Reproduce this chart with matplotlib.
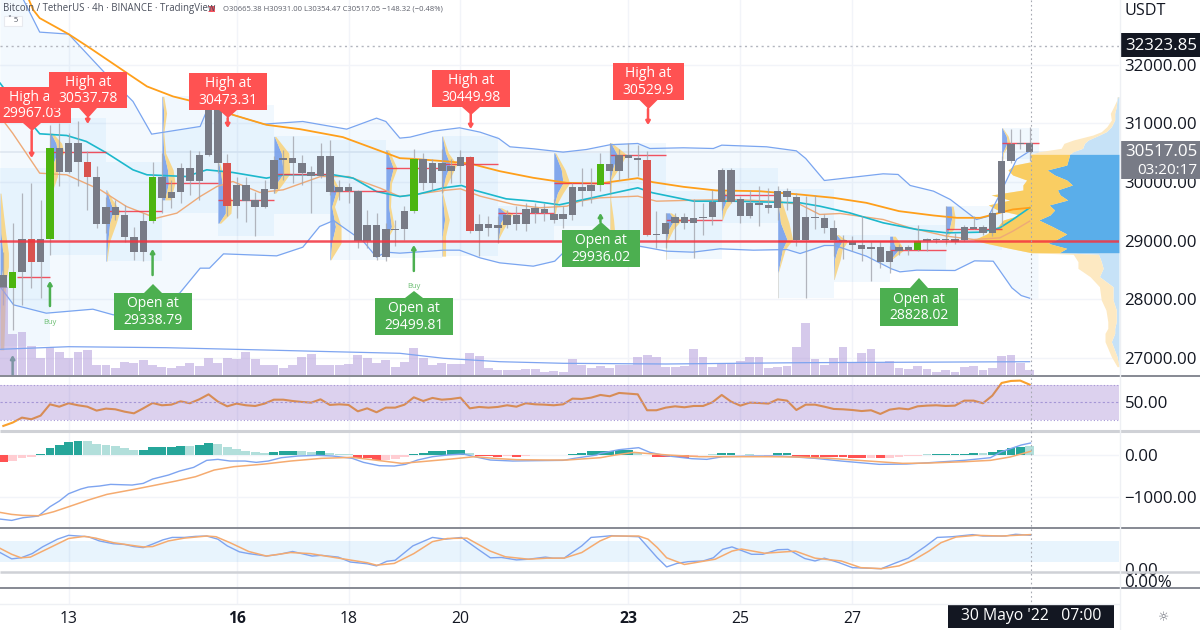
import numpy as np
import matplotlib
matplotlib.use("Agg")
import matplotlib.pyplot as plt
from matplotlib.patches import Polygon, Rectangle

W, H = 1200, 630
# ---------- candles (4h) ----------
c_top = [28408,28471,29023,29023,29034,30582,30582,30667,30667,30343,30087,29569,29569,29438,29068,29336,30087,30087,29831,30240,30240,30457,31333,31333,30320,29950,29950,29694,29876,30366,30411,30411,30320,30161,30445,30445,29910,29910,29842,29273,29273,29193,29193,
 29501,30394,30394,30326,30326,30269,30417,30417,29290,29290,29262,29427,29427,29546,29558,29541,29450,29450,29905,29905,29939,30297,30297,30451,30451,30400,30371,29114,29302,29404,29404,29381,29404,29660,30200,30200,29700,29632,29632,29609,29842,29842,29734,
 29393,29404,29381,29205,29017,28989,28915,28886,28886,28818,28886,28886,28994,29028,29028,29034,29028,29239,29228,29222,29472,30354,30639,30667,30665]
c_bot = [28192,28192,28471,28641,28641,29034,30172,30172,30343,30087,29285,29285,29438,29068,28812,28812,29336,29717,29717,29825,30007,30007,30457,30320,29592,29592,29677,29569,29569,29876,30366,30320,30149,30104,30104,29831,29831,29842,28989,28989,28716,28716,29182,
 29188,29501,29973,29973,30178,30178,30269,29159,29159,29205,29205,29262,29290,29290,29461,29461,29358,29370,29438,29848,29848,29939,30178,30178,30400,30377,29097,29097,29108,29302,29302,29302,29381,29404,29660,29660,29415,29415,29603,29552,29552,29734,29017,
 29006,29381,29205,29017,29000,28915,28858,28858,28636,28636,28818,28835,28835,28994,29006,29011,28972,29006,29199,29131,29131,29472,30354,30639,30517]
c_high = [28800,29296,29808,29979,29694,30974,31003,30832,31031,30519,30263,29750,29694,29609,29239,29467,30337,30491,30035,30320,30548,30519,31333,31344,30479,30092,30092,29836,30035,30434,30548,30775,30462,30263,30661,30718,30035,29979,29865,29523,29467,29296,29350,
 29586,30553,30496,30383,30553,30383,30542,30440,29444,29415,29415,29529,29586,29643,29643,29643,29700,29586,29984,30240,30240,30496,30667,30553,30667,30638,30525,29500,29472,29472,29472,29700,29643,29870,30240,30240,29757,29870,29927,29900,29927,29900,29814,
 29763,29785,29450,29358,29100,29074,29415,28989,28989,28903,28932,28915,29273,29045,29045,29586,29130,29273,29415,29273,29580,30450,30900,30900,30931]
c_low = [27900,27475,27900,28186,28015,28755,29922,30150,29922,29523,29210,29125,29353,28983,28670,28642,29296,29467,29552,29637,29780,29694,30434,30150,29410,29381,29324,29080,29552,29808,30035,29979,29950,29467,30064,29780,29694,29637,28870,28870,28670,28642,28900,
 29017,29472,29870,29870,29814,29984,29984,29131,28733,29074,28960,29216,29171,29159,29302,29330,29302,29216,29358,29586,29643,29842,29814,30041,30070,30098,29074,28875,28875,29017,29188,28704,29100,29273,29529,29643,29302,29387,29245,29472,29358,29529,28900,
 28023,29188,29131,28733,28676,28818,28647,28306,28533,28448,28761,28761,28818,28818,28960,28932,28932,28989,29188,29091,29080,29250,30325,30560,30354]
up_idx = [1,5,16,44,64,98]
down_idx = [3,9,24,50,69]

# ---------- overlays ----------
bbu_x = [-0.35,1.8,3.9,7,8.9,11.4,13.9,15.9,21.1,22,23.2,24.6,27.9,32.1,36.8,40,41,42.5,43.6,46.1,48.9,51.1,53.1,54.3,56.8,60,62.5,65,68,69.3,72.9,76.1,77,81.8,85,86,88,94.3,95.9,97.2,99.7,101.5,104.3,105.6,106.8,108.6,110]
bbu_y = [34500,33221,32556,32522,32198,31771,31373,30815,30946,31287,31230,31145,30986,31031,30900,31088,31031,30747,30764,30866,30923,30849,30741,30599,30565,30508,30553,30633,30656,30570,30582,30570,30627,30599,30530,30400,30024,30138,30127,29939,29842,29700,29358,29415,29785,30383,30525]
bbl_x = [-0.35,1.1,4.6,9.6,11.8,18.9,21.1,22.1,23.6,29.3,32.1,33.9,35.4,38.6,40,41,42.5,47.2,48.9,51.1,53.2,56.8,59.1,60,60.9,65.4,68.2,71.1,73.9,76.8,80.4,84,85.4,88,89.1,92.5,95.2,96.1,97.9,102,104.1,106.1,108.1,109.1,110]
bbl_y = [28215,27902,27760,27828,27731,28101,28528,28528,28772,28738,28886,29239,29341,28983,28716,28801,28784,28835,28835,28704,28619,28562,28647,28789,28932,28960,28903,28818,28801,28858,28835,28846,28778,28915,28915,28733,28516,28465,28494,28488,28653,28647,28192,28061,28016]
ema_x = [2.5,3.2,3.9,7,9.3,13,15.4,18.2,21.8,24.6,28.2,31.8,36.4,39.6,42.5,43.9,47.2,50,53.2,56.8,60.4,63.9,68,69.6,72.9,76.4,81,85.4,89,92.5,96,99.7,102.2,104.7,106.8,108.2,110]
ema_y = [33200,32937,32795,32522,32283,31885,31629,31458,31316,31145,30974,30900,30764,30576,30405,30394,30354,30314,30183,30070,29984,29973,30064,29996,29916,29854,29842,29785,29728,29643,29501,29427,29387,29387,29472,29530,29558]
teal_x = [-0.35,1.8,3.9,6.8,8.9,11.1,13.9,15.4,19.6,21.8,24.6,28.2,30,35.4,37.5,40,42.5,44.3,47.2,49.1,50.6,53.9,56.8,59.6,63.9,68,69.6,74,78.2,85.4,87.5,90.7,94.3,97.9,101.1,104.7,106.8,108.2,110]
teal_y = [31686,31230,30821,30792,30690,30491,30206,30121,30092,30206,30161,30064,30121,30121,30064,29836,29751,29785,29899,29939,29854,29711,29671,29609,29757,29899,29814,29671,29671,29643,29586,29472,29302,29188,29131,29142,29216,29358,29558]
tan_x = [-0.35,1,3.9,6.8,10.4,13.2,16.4,18.6,21.1,22.9,24.6,27.5,30,34,37,40.4,42.5,47.2,49,51.1,54.7,57.5,60.4,61.8,63.9,68,70,74,78.2,82.5,85.4,87.5,89.7,94.3,97.2,101.1,104,106.8,108.2,110]
tan_y = [31117,30832,30149,30121,29865,29580,29381,29467,29751,29922,30007,29819,29865,30092,30092,29893,29751,29854,29882,29757,29615,29558,29586,29671,29728,29757,29671,29688,29700,29671,29615,29444,29461,29358,29216,29074,29017,29045,29159,29330]

# ---------- session boxes, point-of-control lines ----------
box_start = [-0.35,5,11,17,23,29,35,41,47,53,59,65,71,77,83,89,95,101,107]
box_end = [5,11,17,23,29,35,41,47,53,59,65,71,77,83,89,95,101,107,111]
box_high = [30235,31088,30337,31458,31316,30775,30718,30548,30781,29586,30496,30667,29842,30229,29871,29102,29273,29597,30923]
box_low = [27200,28755,28642,29467,29080,29455,28659,28704,28733,29017,29245,28875,28676,29302,28023,28289,28505,28846,30383]
poc_start = [1.5,5,11,17,23,29,35,41,47,53,59,65,71,77,83,89,95,101,107]
poc_end = [5,11,17,23,29,35,41,47,53,59,65,71,77,83,89,95,101,107,111]
poc_price = [28385,30502,29506,29979,29694,30138,29848,30235,30297,29461,29984,30451,29353,29768,28989,29000,28835,29199,30667]

# session profiles: start candle, price levels, blue width and total width in candles
prof_start = [-0.35,5,11,17,23,29,35,41,47,53,59,65,71,77,83,89,95,101,107]
prof_levels = [[29808,29125,28784,28556,28272,27646,27134],[30832,30661,30502,30320,30092,29865],[29865,29694,29506,29296,28989,28647],
 [31458,31174,30832,30491,30206,29979,29694],[30320,30149,29922,29694,29467,29296],[30775,30491,30138,29979,29808],
 [30092,29848,29580,29239,28955,28670],[30548,30235,29979,29580,29239,29011],[30781,30496,30297,30098,29814,29358,29074,28733],
 [29558,29461,29302,29159,29017],[30496,30212,29984,29814,29643,29415],[30667,30468,30212,30041,29700,29358,29188],
 [29472,29353,29188,28960,28676],[29871,29768,29643,29529,29358],[29871,29586,29302,29017,28846,28448,28023],
 [29102,28989,28846,28676,28334],[29074,28932,28835,28676],[29586,29415,29199,29074,28903],[30923,30781,30667,30496,30354]]
prof_blue = [[.02,.1,.3,.3,.1,.02,.02],[.1,.65,.8,.35,.1,.05],[.05,.4,.8,.4,.2,.05],[.05,.2,.1,.2,.6,.7,.3],[.1,.3,.5,.8,.8,.1],[.05,.8,1,.3,.05],
 [.1,.7,.2,.6,.2,.05],[.1,.8,.4,.3,.6,.05],[.05,.4,.9,.4,.03,.3,.05,.05],[.2,.9,.3,.2,.02],[.1,.8,1,.4,.1,.03],[.1,.8,.3,.05,.02,.02,.02],
 [.4,.9,.3,.03,.02],[.03,.5,.4,.1,.02],[.02,.1,.3,1,.5,.03,.03],[.3,.9,.4,.1,.02],[.3,.5,.9,.1],[.6,.7,.4,.05,.02],[.05,.5,.6,.1,.1]]
prof_total = [[.1,.6,.9,.9,.6,.5,.4],[.3,1.25,1.5,.9,.8,.3],[.1,.7,1.5,1.1,.4,.1],[.2,.5,.2,.4,1.2,1.4,.9],[.2,.5,.8,1.5,1.4,.3],[.2,1.6,1.7,1,.2],
 [.3,1.1,.5,1.2,1.2,.1],[.3,1.2,.6,.5,.9,.1],[.1,.7,1.6,1,.1,.8,.4,.4],[.4,1.6,1,.5,.05],[.2,1.2,1.7,1,.4,.1],[.2,1.8,.9,.2,.1,.4,.5],
 [.6,1.7,.8,.1,.05],[.1,1,1,.5,.1],[.05,.6,1.2,1.6,.8,.06,.06],[.5,1.5,.9,.7,.05],[.6,1.2,1.5,.2],[.8,1,.9,.2,.05],[.1,.7,.9,.2,.1]]

# visible-range profile on the right
vp_level = [31454,31284,31170,31056,30943,30857,30800,30715,30658,30573,30516,30470,30459,30345,30288,30203,30118,30032,29947,29862,29776,29691,29606,29520,29435,29350,29236,29111,29009,28952,28866,28792,28764,28639,28525,28383,28212,27985,27814,27615,27501,27416,27274,27018,26847]
vp_blue = [.18,.29,.46,.46,.82,1.36,2.1,3.3,3.7,3.9,4.9,5.3,5.3,5.5,5.6,7.7,6.9,5.6,5.0,6.6,6.3,5.5,7.5,6.9,7.4,8.6,7.1,5.6,6.8,7.6,5.6,6.4,2.2,1.9,1.7,2.1,.64,.64,.29,.29,.46,.46,.82,.21,0]
vp_total = [.07,.57,.93,.82,1.3,1.9,2.8,4.9,5.9,6.2,8.5,9.5,9.5,9.4,11.2,11.9,11.4,9.9,10.3,10.3,13.7,11.7,14,13,10.6,12.4,13,14.2,15.6,14.2,11.7,9.4,4.9,4.4,4.4,3.1,2.1,1.9,1.4,1.2,1.2,1.5,1.5,.82,.2]

# ---------- volume ----------
volume = [8800,4070,4330,2900,1670,2830,2330,1730,2330,2500,1000,1000,730,1330,1170,1500,1000,830,730,900,1170,900,1670,1230,1730,1570,2330,1570,1000,1000,730,1000,1830,2070,1000,1000,1000,1070,2000,1670,1170,1500,830,
 1330,2670,1730,1000,1230,1070,1070,2170,1900,670,500,500,500,600,600,330,400,330,1600,1000,730,900,670,1000,1000,1830,2030,1770,830,830,930,2600,1770,770,1070,1070,1400,1770,1770,670,770,930,2770,
 5230,1570,1000,1670,2770,1330,2230,2570,1170,1400,730,630,900,630,330,500,270,830,900,500,730,1900,1970,1230,500]
volma_x = [-0.35,7,17.5,28,35.3,42.5,47.2,53.2,60,71,85.4,110]
volma_y = [2570,2830,2730,2500,2330,2170,1670,1330,1170,1100,1230,1330]

# ---------- RSI ----------
rsi = [23,26.8,32.5,30.6,34.8,47.7,45,48.9,46.6,45,40.5,42.8,42,39.3,37.4,43.1,49.2,46.6,47.3,51.1,48.9,53.4,59.1,50.8,45.4,48.5,46.6,45.8,48.5,53,53,51.5,50.4,49.6,53.4,47,47.7,47,39.7,43.1,38.6,43.9,43.9,47.3,55.7,51.5,55,53,53.8,55.3,43.1,44.7,43.9,44.7,46.6,45,48.9,47.7,47.3,46.6,47.7,54.2,53.8,55.3,58.4,
 56.9,60.7,59.9,59.1,40.9,40.9,43.9,45.4,44.3,45.8,45.8,50,58.4,50.8,46.2,49.6,49.2,48.5,53.4,51.9,41.2,47.3,47.3,45,42.4,42,41.2,40,40.9,36.7,41.6,43.1,42,45.4,46.2,46.6,45.8,46.2,51.9,51.9,48.9,57.6,72.1,74.4,74.8,70.2]

# ---------- MACD ----------
macd_hist = [-160,-136,-72,-40,16,176,248,320,336,328,264,240,208,176,128,128,184,192,200,224,224,240,296,264,192,152,96,64,48,80,96,96,88,72,88,40,24,16,-64,-64,-120,-112,-104,-48,24,48,88,104,112,120,48,-24,-32,-48,-24,-48,-16,-8,-8,-8,-8,32,48,88,96,104,112,120,56,8,-40,-56,-56,-64,-24,-8,24,40,40,-8,32,-8,-24,40,40,-40,-48,-48,-56,-56,-56,-64,-64,-72,-80,-64,-56,-32,-16,16,24,24,24,32,48,40,72,128,176,200,216]
macd_code = "RPPPDDDDDLLLLLLDDDDDLDDLLLLLLDDDLLDLLLRRRPPPDDDDDDLRRRPRPPPPPDDDDDDDLLRRRRPPLDDPLPPDDRRRRRRRRPRPPPPLDDDDDLDDDDL"
macd_x = [-0.35,0.9,2.1,3.75,5,6,7,8.3,9.1,10.3,11.5,13.8,15,16,17.7,18.9,20.4,21.8,23,24.3,25.9,27.1,28.4,29.8,31.6,33.7,35.3,37.4,38.6,40.3,41.9,43.1,44.4,46,47.6,49.3,50.5,52.2,54.6,57,60,61.2,63.6,64,66,68.1,69.3,71,73.8,75.4,77.1,80.4,83.2,84.9,87,89.8,93.9,96.8,99.2,103,105.8,107,109.1,110.1]
macd_y = [-1536,-1568,-1504,-1464,-1240,-1104,-928,-816,-768,-744,-704,-720,-680,-576,-480,-384,-296,-128,-104,-144,-144,-176,-144,-64,-24,-8,-24,-80,-176,-256,-264,-224,-120,-40,0,24,-40,-120,-144,-136,-128,-80,0,40,128,176,64,-16,-88,-104,-40,-24,-24,-48,-80,-144,-224,-216,-184,-128,-64,80,240,288]
sig_x = [-0.35,0.9,2.1,3.75,5.4,7,9.1,11.1,14,16,18.5,20.6,22.6,24.7,28,30.8,34.1,37.4,39.8,42.7,44.8,48,50.5,52.6,55,58.3,60.4,64,65.6,67.6,69.3,71.3,74.6,77.5,82,85.3,88.6,92.7,96.4,99.2,103,105.8,107.9,110.1]
sig_y = [-1376,-1424,-1448,-1456,-1360,-1240,-1080,-944,-824,-736,-624,-520,-360,-280,-216,-144,-80,-56,-120,-200,-160,-96,-40,-80,-112,-120,-120,-64,0,64,32,0,-40,-40,-40,-48,-80,-144,-200,-192,-160,-128,-48,88]

# ---------- Stochastic ----------
k_x = [-0.35,0.9,1.9,3.1,4.2,5.8,7,9.1,10.3,11.8,13,14,15,16,17.1,18.1,19.4,20.6,21.8,23,24,25.3,26.3,28.2,29.6,31,33.1,34.1,35.9,37.2,39,40,41.1,42,43.9,46,47.4,49.1,50.9,52.2,53.4,55,56.3,58.1,58.9,60.1,62,63,64,65.2,68.1,70.1,71.1,72.2,73.4,75,76.1,77.1,78.1,80.2,81.4,83,84.1,85.9,87,88,89.6,91,94.1,95.5,97,98.8,100.1,101.7,103.9,105,107.4,108.5,110.1]
k_y = [46,28,31,43,62,84,95,91,79,71,69,63,60,70,82,89,89,92,93,84,65,48,43,36,41,49,36,38,33,19,14,8,21,24,65,89,84,89,55,31,32,25,27,33,30,30,65,89,91,94,91,31,5,15,20,22,31,55,62,41,41,54,55,29,22,30,17,3,0,15,30,63,89,91,97,93,93,98,95]
d_x = [-0.35,0.9,1.9,2.9,5,7,8.7,9.9,11.8,13.6,15,16,17.7,19.4,21.8,22.8,24.3,26.3,28.2,30.8,32.9,35.7,39,40,41.9,44,46,47.6,49.7,52.2,53.8,56.3,58.3,60.1,62,63.96,65.2,68.1,69.1,70.1,71.1,73,75.2,76.3,78.1,79.1,81.6,84.9,87,89.8,91.9,94.1,96,97.6,99.2,100.5,102.1,104.2,107,108.5,110.1]
d_y = [58,41,31,33,60,86,92,87,74,67,62,63,79,87,93,91,74,49,36,46,43,31,17,10,15,43,77,86,87,50,34,27,30,30,46,79,93,93,84,60,31,12,22,27,50,56,44,50,30,22,3,0,8,25,50,74,90,95,93,95,97]

# ---------- ticks ----------
price_ticks = [27000,28000,29000,30000,31000,32000]
date_pos = [7,25,37,49,67,79,91]
date_labels = ["13","16","18","20","23","25","27"]
date_bold = ["16","23"]
last_price = 30517.05
level_price = 32323.85
pivot_price = 29000

# ---------- callouts (layout, pixels) ----------
RED, GREEN = "#ff5252", "#4caf50"
call_text = ["High at\n29967.03","High at\n30537.78","High at\n30473.31","High at\n30449.98","High at\n30529.9",
             "Open at\n29338.79","Open at\n29499.81","Open at\n29936.02","Open at\n28828.02"]
call_l = [-7,49,189,432,613,114,375,562,880]
call_r = [71,127,267,510,684,192,453,640,958]
call_t = [87,72,73,70,63,293,298,230,288]
call_b = [123,108,110,107,100,330,335,267,326]
call_tip = [131,118,118,115,109,284,291,222,278]
arrow_x = [3.04,9.05,24.05,50.1,69.1,5,16,44,64,1]
arrow_from = [30869,31090,31090,31159,31244,27882,28411,28480,29316,26705]
arrow_to = [30408,30988,30920,30903,30970,28309,28855,28923,29469,27046]

FONT = "Open Sans"
TICK = 12.2
plt.rcParams["font.family"] = [FONT, "DejaVu Sans"]
fig = plt.figure(figsize=(12, 6.3), dpi=100, facecolor="white")

def pane(top, bottom, right=1119):
    return fig.add_axes([0, 1 - bottom / H, right / W, (bottom - top) / H])

XL = (-0.354, 119.58)
GRID = "#f2f4f9"
ax = pane(0, 375)
rsi_ax = pane(376, 431, right=1119)
macd_ax = pane(432, 528)
st_ax = pane(529, 571.5)
pct_ax = pane(572, 587)
t_ax = pane(588, 604)
for a in (ax, rsi_ax, macd_ax, st_ax, pct_ax, t_ax):
    a.set_xlim(*XL)
    a.set_facecolor("none")
    for s in a.spines.values():
        s.set_visible(False)
    a.yaxis.tick_right()
    a.tick_params(axis="y", length=0, labelsize=TICK, labelcolor="#131722", pad=4)
    a.tick_params(axis="x", length=0, labelbottom=False)
    a.set_xticks(date_pos)
    a.grid(True, axis="x", color=GRID, lw=1)
    a.set_axisbelow(True)

# main pane
ax.set_ylim(26705, 33104)
ax.set_yticks(price_ticks, [f"{v:.2f}" for v in price_ticks])
ax.grid(True, axis="y", color=GRID, lw=1)

grid_x = np.arange(XL[0], 111, 0.25)
ax.fill_between(grid_x, np.interp(grid_x, bbl_x, bbl_y), np.interp(grid_x, bbu_x, bbu_y),
                color="#2196f3", alpha=0.05, lw=0, zorder=1)
for s, e, hi, lo in zip(box_start, box_end, box_high, box_low):
    ax.add_patch(Rectangle((s, lo), e - s, hi - lo, color="#2196f3", alpha=0.06, lw=0, zorder=1.1))
for s, lev, b, t in zip(prof_start, prof_levels, prof_blue, prof_total):
    lev, b, t = np.array(lev), np.array(b), np.array(t)
    ax.fill_betweenx(lev, s, s + b, color="#6b96e8", alpha=0.8, lw=0, zorder=1.3)
    ax.fill_betweenx(lev, s + b, s + t, color="#f9d27a", alpha=0.85, lw=0, zorder=1.3)

# right-hand visible range profile
edge = XL[1]
lv, vb, vt = np.array(vp_level), np.array(vp_blue), np.array(vp_total)
ax.fill_betweenx(lv, edge - vb, edge, color="#c6e2f7", lw=0, zorder=1.5)
ax.fill_betweenx(lv, edge - vt, edge - vb, color="#fde9c2", lw=0, zorder=1.5)
va = (lv <= 30470) & (lv >= 28792)
ax.fill_betweenx(lv, edge - vb, edge, where=va, color="#5aaeea", lw=0, zorder=1.6)
ax.fill_betweenx(lv, edge - vt, edge - vb, where=va, color="#f9cd62", lw=0, zorder=1.6)

ax.plot(bbu_x, bbu_y, color="#7aa5f0", lw=0.9, zorder=2)
ax.plot(bbl_x, bbl_y, color="#7aa5f0", lw=0.9, zorder=2)
ax.plot(tan_x, tan_y, color="#eeaa78", lw=1, zorder=2)
ax.plot(teal_x, teal_y, color="#1cb8cc", lw=1.2, zorder=2)
ax.plot(ema_x, ema_y, color="#ff9f1a", lw=1.3, zorder=2)
ax.hlines(poc_price, poc_start, poc_end, color="#f23645", lw=1, alpha=0.85, zorder=2.2)
ax.axhline(level_price, color="#b2b5be", lw=1, ls=(0, (1.5, 2.5)), zorder=2)
ax.axhline(last_price, color="#e9ebf0", lw=1.2, zorder=0.9)

# candles
xs = np.arange(len(c_top))
cols = ["#787b86"] * len(xs)
for i in up_idx:
    cols[i] = "#4cb510"
for i in down_idx:
    cols[i] = "#d9534f"
ax.vlines(xs, c_low, c_high, color="#a3a5ad", lw=0.9, alpha=0.8, zorder=3)
ax.bar(xs, np.array(c_top) - np.array(c_bot), bottom=c_bot, width=0.8, color=cols, lw=0, zorder=3.1)
ax.axhline(pivot_price, color="#f4333f", lw=1.8, alpha=0.85, zorder=3.3)

for x0, a, b in zip(arrow_x, arrow_from, arrow_to):
    col = RED if b < a else GREEN
    if x0 == 1:
        col = "#3e8e62"
    ax.annotate("", xy=(x0, b), xytext=(x0, a), zorder=4,
                arrowprops=dict(arrowstyle="-|>,head_width=0.12,head_length=0.2", color=col, lw=1.8, shrinkA=0, shrinkB=0))

# volume
vol_ax = ax.twinx()
ax.yaxis.tick_right()
vol_ax.set_ylim(0, 37500)
vol_ax.axis("off")
vol_ax.set_zorder(ax.get_zorder() + 0.5)
vol_ax.bar(xs, volume, width=0.95, color="#b39ddb", alpha=0.55, lw=0)
vol_ax.plot(volma_x, volma_y, color="#7ea4f0", lw=0.9)

# RSI
rsi_ax.set_ylim(17.2, 80.06)
rsi_ax.set_yticks([50], ["50.00"])
rsi_ax.plot(xs, rsi, color="#f9a12e", lw=1.5, zorder=2)
rsi_ax.axhspan(30, 70, color="#7e57c2", alpha=0.27, lw=0, zorder=3)
for v, st in zip([70, 50, 30], [(0, (1, 2)), (0, (2, 2)), (0, (1, 2))]):
    rsi_ax.axhline(v, color="#a596d6", lw=0.8, ls=st, zorder=3)

# MACD
macd_ax.set_ylim(-1750, 552)
macd_ax.set_yticks([0, -1000], ["0.00", "\u22121000.00"])
macd_ax.grid(True, axis="y", color=GRID, lw=1)
cmap = dict(D="#26a69a", L="#b2dfdb", R="#ff5252", P="#ffcdd2")
macd_ax.bar(xs, macd_hist, width=0.95, color=[cmap[c] for c in macd_code], lw=0, zorder=2)
macd_ax.plot(macd_x, macd_y, color="#7ea4f0", lw=1, zorder=3)
macd_ax.plot(sig_x, sig_y, color="#f5ab70", lw=1.1, zorder=3)

# Stochastic
st_ax.set_ylim(-8, 113)
st_ax.set_yticks([0], ["0.00"])
st_ax.axhspan(20, 80, color="#2196f3", alpha=0.1, lw=0, zorder=1)
st_ax.plot(k_x, k_y, color="#7ea4f0", lw=1, zorder=2)
st_ax.plot(d_x, d_y, color="#f5ab70", lw=1.1, zorder=2)

# percent pane
pct_ax.set_ylim(-6, 9)
pct_ax.set_yticks([0], ["0.00%"])

# time axis
t_ax.set_ylim(0, 1)
t_ax.set_yticks([])
t_ax.tick_params(axis="x", labelbottom=True, pad=5, labelsize=11.3, labelcolor="#131722")
t_ax.set_xticks(date_pos, date_labels)
for lab in t_ax.get_xticklabels():
    if lab.get_text() in date_bold:
        lab.set_fontweight("bold")

# ---------- pixel overlay: separators, labels, callouts ----------
ov = fig.add_axes([0, 0, 1, 1], zorder=20)
ov.set_xlim(0, W)
ov.set_ylim(H, 0)
ov.axis("off")
ov.patch.set_alpha(0)

for y, col, lw in [(375.5, "#868993", 1.4), (431, "#cfd1d6", 2.2), (528, "#868993", 1.4),
                   (571.5, "#cfd1d6", 1.8), (587.5, "#868993", 1.4)]:
    ov.plot([0, W], [y, y], color=col, lw=lw, solid_capstyle="butt")
ov.plot([0, 1119], [604, 604], color="#eef0f4", lw=1)
ov.plot([1119.5, 1119.5], [0, 630], color="#eef0f4", lw=1)
ov.plot([1031, 1031], [0, 604], color="#a6a9b2", lw=0.8, ls=(0, (1.5, 2.5)))

for i, (txt, l, r, t, b, tip) in enumerate(zip(call_text, call_l, call_r, call_t, call_b, call_tip)):
    col = RED if txt.startswith("High") else GREEN
    cx = (l + r) / 2
    if col == RED:
        pts = [(l, t), (r, t), (r, b), (cx + 9, b), (cx, tip), (cx - 9, b), (l, b)]
    else:
        pts = [(l, t), (cx - 9, t), (cx, tip), (cx + 9, t), (r, t), (r, b), (l, b)]
    ov.add_patch(Polygon(pts, closed=True, facecolor=col, edgecolor="none", zorder=5 + i * 0.1))
    ov.text(cx, (t + b) / 2 + 0.5, txt, color="white", fontsize=10, ha="center", va="center",
            linespacing=1.15, zorder=5.05 + i * 0.1)

for x, y in [(50, 323), (414, 287)]:
    ov.text(x, y, "Buy", color="#6cbf73", fontsize=5.5, ha="center", va="center")

ov.text(3, 8.5, "Bitcoin / TetherUS \u00b7 4h \u00b7 BINANCE \u00b7 TradingView", color="#4a4f5c", fontsize=6.9, va="center")
ov.add_patch(Polygon([(208, 6), (215, 6), (215, 12), (208, 12), (211, 9)], closed=True, facecolor="#f7525f", edgecolor="none"))
ov.text(223, 9, "O30665.38 H30931.00 L30354.47 C30517.05 \u2212148.32 (\u22120.48%)", color="#5d606b", fontsize=5.5, va="center")
ov.add_patch(Rectangle((4, 16), 18, 10, facecolor="white", edgecolor="#e8eaef", lw=0.8))
ov.text(13, 21, "\u02c5 5", color="#4a4f5c", fontsize=5.5, ha="center", va="center")

ov.text(1124, 11, "USDT", color="#131722", fontsize=11.6, va="center")
ov.add_patch(Rectangle((1120, 33), 80, 24, facecolor="#131722", edgecolor="none"))
ov.text(1197, 45.5, f"{level_price:.2f}", color="white", fontsize=TICK, ha="right", va="center")
ov.add_patch(Rectangle((1120, 141), 80, 38, facecolor="#787b86", edgecolor="none"))
ov.text(1197, 152, f"{last_price:.2f}", color="white", fontsize=TICK, ha="right", va="center")
ov.text(1197, 170, "03:20:17", color="white", fontsize=11, ha="right", va="center")
ov.add_patch(Rectangle((948, 604), 166, 24, facecolor="#131722", edgecolor="none"))
ov.text(1031, 616, "30 Mayo '22   07:00", color="white", fontsize=11.3, ha="center", va="center")
ov.text(1164, 618, "\u263c", color="#6a6d78", fontsize=9, ha="center", va="center", family="DejaVu Sans")

fig.savefig("out.png", dpi=100, facecolor="white")
